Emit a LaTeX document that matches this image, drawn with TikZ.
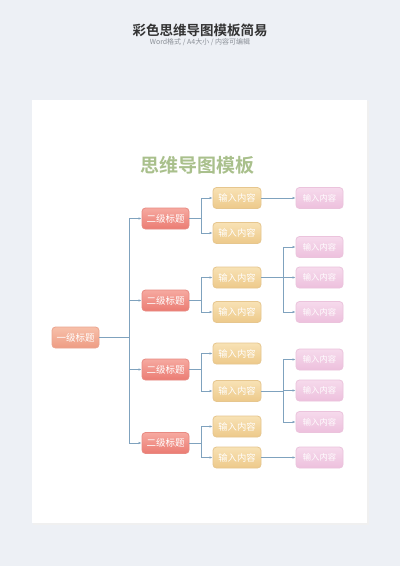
\documentclass[tikz,border=0pt]{standalone}
\usepackage{fontspec}
\setmainfont{Noto Sans CJK SC}
\newfontfamily\cjk{Noto Sans CJK SC}
\newfontfamily\cjkb{Noto Sans CJK SC Bold}
\usetikzlibrary{arrows.meta}
\definecolor{bgc}{HTML}{EDF0F5}
\definecolor{linec}{HTML}{7FA2BE}
\definecolor{titlec}{HTML}{333333}
\definecolor{subc}{HTML}{8A8F96}
\definecolor{greenc}{HTML}{A9C08C}
\definecolor{rootT}{HTML}{F7C0AA}
\definecolor{rootB}{HTML}{EE9C83}
\definecolor{rootD}{HTML}{EBA58F}
\definecolor{redT}{HTML}{F6A9A0}
\definecolor{redB}{HTML}{EB7C73}
\definecolor{redD}{HTML}{E88A82}
\definecolor{yelT}{HTML}{F8E2B5}
\definecolor{yelB}{HTML}{EDC98A}
\definecolor{yelD}{HTML}{E6C68E}
\definecolor{pinkT}{HTML}{F6DAEC}
\definecolor{pinkB}{HTML}{EDC0DD}
\definecolor{pinkD}{HTML}{EBC3DC}
\tikzset{
  box/.style={rounded corners=3.5pt, minimum height=21pt, inner sep=0pt, text=white, font=\cjk, line width=0.8pt},
  rootbox/.style={box, minimum width=47pt, draw=rootD, top color=rootT, bottom color=rootB, font=\cjk\fontsize{9.5}{10}\selectfont},
  l2box/.style={box, minimum width=47pt, draw=redD, top color=redT, bottom color=redB, font=\cjk\fontsize{9.5}{10}\selectfont},
  l3box/.style={box, minimum width=48pt, draw=yelD, top color=yelT, bottom color=yelB, font=\cjk\fontsize{9.3}{10}\selectfont},
  l4box/.style={box, minimum width=47pt, draw=pinkD, top color=pinkT, bottom color=pinkB, font=\cjk\fontsize{8.3}{9}\selectfont},
  conn/.style={draw=linec, line width=0.6pt, -{Latex[length=3pt,width=2.4pt]}},
  plain/.style={draw=linec, line width=0.6pt}
}
\begin{document}
\begin{tikzpicture}[x=1pt,y=-1pt]
\useasboundingbox (0,0) rectangle (400,566);
\fill[bgc] (0,0) rectangle (400,566);
\fill[black!6] (33,101) rectangle (368.5,524.5);
\fill[white] (32,100) rectangle (367,523);
\node[font=\cjkb\fontsize{13.5}{14}\selectfont, text=titlec] (maintitle) at (200,30) {彩色思维导图模板简易};
\node[font=\cjk\fontsize{7}{8}\selectfont, text=subc] (subtitle) at (200,42.5) {Word格式 / A4大小 / 内容可编辑};
\node[font=\cjkb\fontsize{19}{20}\selectfont, text=greenc] (title) at (197.5,165) {思维导图模板};
% root
\node[rootbox] (r) at (75.5,337.5) {一级标题};
% level 2
\node[l2box] (a1) at (165.5,218.5) {二级标题};
\node[l2box] (a2) at (165.5,300.5) {二级标题};
\node[l2box] (a3) at (165.5,369.5) {二级标题};
\node[l2box] (a4) at (165.5,443) {二级标题};
% level 3
\node[l3box] (b1) at (237,198) {输入内容};
\node[l3box] (b2) at (237,233) {输入内容};
\node[l3box] (b3) at (237,277.5) {输入内容};
\node[l3box] (b4) at (237,312) {输入内容};
\node[l3box] (b5) at (237,353.5) {输入内容};
\node[l3box] (b6) at (237,391) {输入内容};
\node[l3box] (b7) at (237,426.5) {输入内容};
\node[l3box] (b8) at (237,457.5) {输入内容};
% level 4
\node[l4box] (c1) at (319.5,198) {输入内容};
\node[l4box] (c2) at (319.5,247) {输入内容};
\node[l4box] (c3) at (319.5,277.5) {输入内容};
\node[l4box] (c4) at (319.5,312) {输入内容};
\node[l4box] (c5) at (319.5,359.5) {输入内容};
\node[l4box] (c6) at (319.5,390.5) {输入内容};
\node[l4box] (c7) at (319.5,422) {输入内容};
\node[l4box] (c8) at (319.5,457.5) {输入内容};
% connectors root -> level 2
\coordinate (j0) at (129,337.5);
\draw[plain] (r.east) -- (j0);
\foreach \t in {a1,a2,a3,a4}{
  \draw[conn] (j0) |- (\t.west);
}
% level 2 -> level 3
\foreach \s/\p/\q in {a1/b1/b2, a2/b3/b4, a3/b5/b6, a4/b7/b8}{
  \coordinate (k\s) at ([xshift=12pt]\s.east);
  \draw[plain] (\s.east) -- (k\s);
  \draw[conn] (k\s) |- (\p.west);
  \draw[conn] (k\s) |- (\q.west);
}
% level 3 -> level 4
\draw[conn] (b1.east) -- (c1.west);
\draw[conn] (b8.east) -- (c8.west);
\coordinate (m3) at (283,277.5);
\draw[plain] (b3.east) -- (m3);
\foreach \t in {c2,c3,c4}{ \draw[conn] (m3) |- (\t.west); }
\coordinate (m6) at (283,391);
\draw[plain] (b6.east) -- (m6);
\foreach \t in {c5,c6,c7}{ \draw[conn] (m6) |- (\t.west); }
\end{tikzpicture}
\end{document}
